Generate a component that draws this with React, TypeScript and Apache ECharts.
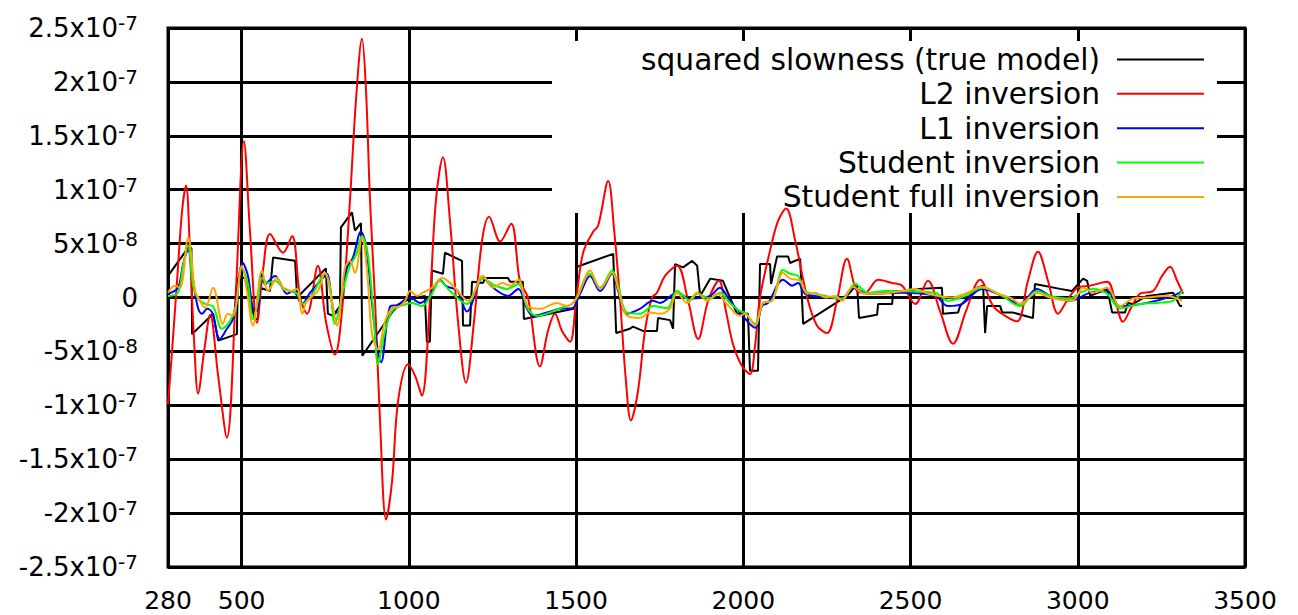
import React, { useEffect, useRef } from 'react';
import * as echarts from 'echarts';

// ---- axes ----
const X_MIN = 280;
const X_MAX = 3500;
const X_TICKS = [280, 500, 1000, 1500, 2000, 2500, 3000, 3500];
// y values are stored in units of 1e-8
const Y_MIN = -25;
const Y_MAX = 25;
const Y_STEP = 5;
const Y_TICK_MANTISSA = ['-2.5', '-2', '-1.5', '-1', '-5', '0', '5', '1', '1.5', '2', '2.5'];
const Y_TICK_EXPONENT = ['-7', '-7', '-7', '-7', '-8', '', '-8', '-7', '-7', '-7', '-7'];

const SERIES_NAMES = [
  'squared slowness (true model)',
  'L2 inversion',
  'L1 inversion',
  'Student inversion',
  'Student full inversion',
];
const SERIES_COLORS = ['#000000', '#ff0000', '#0000ff', '#00ff00', '#ffa500'];

// ---- data: [x, value in 1e-8] ----
const TRUE_MODEL = [
  [280, 2.0], [340, 4.6], [350, 4.6], [352, -3.4], [415, -1.5], [430, -4.0], [486, -3.4], [489, 1.8],
  [510, 1.8], [525, -0.3], [540, -2.0], [549, -2.0], [555, 0.9], [585, 0.6], [594, 3.7], [660, 3.4],
  [666, 0], [752, 2.7], [758, -1.5], [773, -1.7], [794, -0.8], [797, 6.5], [830, 7.9], [839, 6.2],
  [857, 6.9], [861, -5.4], [953, -1.25], [974, -0.6], [998, -0.2], [1048, 0.15], [1054, -4.1],
  [1063, -4.1], [1069, 2.5], [1102, 2.2], [1108, 4.15], [1159, 3.4], [1162, -2.6], [1183, -2.6],
  [1189, 1.45], [1222, 1.35], [1228, 1.8], [1297, 1.8], [1303, 1.45], [1341, 1.45], [1344, -2.0],
  [1500, -1.0], [1503, 2.85], [1611, 4.05], [1620, -3.3], [1661, -2.9], [1670, -2.7], [1700, -3.1],
  [1742, -3.1], [1745, -1.9], [1781, -2.1], [1790, -2.9], [1796, 3.1], [1820, 2.8], [1847, 3.4],
  [1862, 2.95], [1871, 0.15], [1901, 1.75], [1939, 1.55], [1954, 0.45], [1981, -1.5], [2014, -1.5],
  [2020, -6.8], [2044, -6.8], [2050, 3.1], [2080, 3.1], [2083, 1.25], [2101, 3.8], [2134, 3.8],
  [2140, 3.2], [2170, 3.6], [2179, -2.45], [2310, 0.15], [2340, 1.25], [2346, -1.9], [2400, -1.6],
  [2403, -0.6], [2445, -0.6], [2448, 0.6], [2493, 0.6], [2523, 0.8], [2594, 0.9], [2597, -1.5],
  [2642, -1.4], [2648, -0.8], [2699, 0.9], [2717, 1.1], [2723, -3.3], [2729, -0.8], [2768, -0.8],
  [2774, -1.4], [2807, -1.4], [2866, -1.9], [2872, 1.25], [2947, 0.8], [2983, 0.6], [3016, 1.75],
  [3028, 1.55], [3037, 0.15], [3088, 0.8], [3103, -1.4], [3141, -1.4], [3150, -0.5], [3165, -0.6],
  [3207, 0.15], [3237, 0.25], [3285, 0.45], [3306, -0.8], [3312, -0.8],
];

const L2_INV = [
  [280, -9.9], [292, -5.0], [307, 1.5], [322, 8.0], [334, 10.4], [346, 4.0], [358, -4.0], [370, -8.9],
  [388, -5.0], [406, -1.6], [430, -7.3], [456, -13.0], [483, 0.6], [507, 14.5], [525, 6.2],
  [546, -2.35], [564, 2.5], [585, 5.9], [624, 4.15], [651, 5.7], [675, 0], [696, -1.5], [728, 2.95],
  [752, -2.2], [779, -5.3], [803, -0.3], [824, 9.0], [842, 18.3], [860, 24.0], [872, 19.2], [884, 9.0],
  [899, -0.3], [914, -11.5], [932, -20.6], [950, -17.0], [968, -9.6], [998, -6.2], [1019, -7.3],
  [1039, -9.1], [1063, -0.3], [1081, 9.0], [1102, 13.0], [1123, 7.1], [1147, -2.2], [1171, -7.9],
  [1195, -2.2], [1219, 5.3], [1240, 7.5], [1273, 5.2], [1306, 6.85], [1332, 1.55], [1356, 0],
  [1392, -6.4], [1416, -3.1], [1437, -1.5], [1458, -3.1], [1482, -4.1], [1500, -0.3], [1521, 4.15],
  [1551, 6.1], [1566, 6.65], [1596, 10.8], [1614, 6.2], [1631, 0], [1649, -7.7], [1664, -11.4],
  [1685, -8.7], [1706, -3.1], [1727, 0], [1742, 0.45], [1766, 2.0], [1802, 2.95], [1835, -0.3],
  [1865, -3.85], [1895, -0.3], [1927, 1.55], [1948, -1.25], [1969, -4.3], [1996, -6.35], [2020, -7.1],
  [2035, -4.5], [2050, 0], [2080, 4.35], [2104, 7.1], [2128, 8.25], [2155, 5.3], [2191, 0],
  [2220, -2.6], [2250, -3.3], [2280, -0.3], [2310, 3.6], [2340, 0.6], [2364, 0.45], [2403, 1.65],
  [2445, 1.35], [2475, 1.1], [2514, -0.6], [2552, 1.55], [2588, -1.25], [2627, -4.3], [2666, -1.25],
  [2708, 1.65], [2747, -0.8], [2783, -1.7], [2819, -2.2], [2851, 1.55], [2881, 4.25], [2911, 1.55],
  [2941, -1.5], [2968, -0.3], [2998, 0.9], [3037, 1.1], [3088, 1.45], [3112, -0.3], [3135, -2.25],
  [3162, -0.8], [3186, 0.35], [3225, 0.6], [3252, 2.0], [3276, 2.85], [3297, 1.55], [3315, 0.35],
];

const L1_INV = [
  [280, 0.35], [310, 0.9], [325, 3.1], [340, 4.35], [355, 1.55], [370, -1.0], [382, -1.5], [397, -1.05],
  [412, -1.4], [435, -3.85], [456, -2.9], [474, -2.0], [504, 3.2], [519, 2.0], [534, -1.0], [546, -1.25],
  [561, 2.2], [570, 1.25], [600, 2.0], [636, 0.35], [654, 0.6], [681, -0.6], [705, 0.45], [743, 1.8],
  [755, 2.2], [779, -1.5], [794, -1.0], [815, 2.75], [833, 3.7], [857, 6.1], [872, 4.8], [899, -3.1],
  [917, -6.0], [944, -0.85], [965, -0.7], [1004, 0], [1033, -0.5], [1063, 0.15], [1093, 1.65],
  [1114, 1.0], [1144, 0.7], [1174, -1.3], [1222, 1.8], [1252, 0.9], [1297, 0.15], [1327, 0.8],
  [1353, -1.0], [1371, -1.7], [1413, -1.4], [1452, -1.05], [1488, -1.0], [1512, 0.35], [1542, 2.0],
  [1572, 0.6], [1608, 2.2], [1626, 0.6], [1652, -1.5], [1691, -1.05], [1730, -0.3], [1751, -0.5],
  [1802, 0.45], [1841, -0.1], [1901, 0.15], [1930, 0.9], [1960, -0.3], [1990, -1.4], [2035, -2.8],
  [2056, -0.8], [2074, -0.5], [2119, 1.65], [2146, 1.1], [2164, 1.35], [2185, 0.35], [2253, 0],
  [2295, -0.1], [2328, 0.9], [2373, 0.35], [2475, 0.45], [2573, 0.15], [2612, -0.8], [2654, -0.6],
  [2714, 0.8], [2774, 0.15], [2827, -0.6], [2878, 0.8], [2917, 0.15], [2977, -0.3], [3037, 0.45],
  [3088, 0.6], [3126, -0.8], [3207, -0.5], [3285, 0.15], [3312, 0.6],
];

const STUDENT_INV = [
  [280, 0.15], [310, 0.45], [325, 2.95], [340, 4.8], [355, 1.1], [370, -0.1], [391, -0.6], [415, -0.85],
  [441, -2.9], [465, -2.2], [483, -0.8], [501, 2.75], [519, 1.25], [534, -2.0], [549, -0.3], [561, 1.8],
  [579, 1.35], [600, 1.55], [624, 0.9], [645, 0.6], [666, 0.35], [681, -0.6], [711, 0.25], [749, 2.2],
  [764, 1.1], [779, -2.45], [803, 0.6], [824, 2.95], [842, 3.9], [860, 5.7], [878, 3.9], [896, -2.2],
  [908, -6.2], [929, -3.1], [950, -1.25], [974, -0.8], [1010, -0.5], [1039, -0.8], [1069, 0.35],
  [1093, 1.55], [1123, 0.6], [1174, -0.6], [1222, 1.8], [1252, 1.2], [1294, 0.8], [1327, 1.25],
  [1356, -1.05], [1383, -1.7], [1422, -1.4], [1452, -1.0], [1491, -0.5], [1542, 2.2], [1572, 0.9],
  [1608, 2.5], [1626, 1.1], [1652, -1.4], [1691, -1.5], [1730, -0.8], [1772, -1.0], [1802, 0.6],
  [1841, -0.3], [1862, 0.35], [1901, -0.1], [1930, 0.45], [1960, -0.5], [1990, -1.25], [2005, -1.4],
  [2035, -2.45], [2059, -0.5], [2086, -0.3], [2119, 2.55], [2140, 2.2], [2164, 2.0], [2185, 0.6],
  [2215, 0.35], [2295, -0.1], [2334, 1.25], [2373, 0.45], [2424, 0.6], [2573, 0.45], [2612, -0.3],
  [2663, 0.15], [2714, 0.9], [2774, 0.15], [2827, -0.8], [2878, 0.6], [2917, 0.15], [2977, -0.1],
  [3007, 0.45], [3046, 0.8], [3088, 0.35], [3126, -1.0], [3186, -0.6], [3237, -0.5], [3285, -0.3],
  [3312, 0.6],
];

const STUDENT_FULL_INV = [
  [280, 0.45], [301, 1.1], [316, 0.9], [340, 5.55], [361, 0.6], [370, 0], [391, -0.95], [415, 0.9],
  [444, -2.45], [459, -1.5], [474, -1.7], [501, 2.95], [516, 0.6], [534, -2.6], [561, 2.5], [579, 0.6],
  [606, 1.8], [624, 0.8], [645, 0.6], [666, 0.8], [681, -1.5], [696, -0.3], [728, 0.6], [749, 2.3],
  [770, -0.3], [785, -2.6], [809, 2.75], [824, 3.4], [839, 2.3], [860, 5.55], [875, 2.5], [890, -3.4],
  [908, -4.8], [929, -2.2], [950, -1.0], [974, -0.8], [989, -0.3], [1004, 0.6], [1025, 0.15],
  [1042, 0.45], [1069, 0.9], [1099, 1.8], [1132, 1.1], [1177, -0.3], [1222, 2.0], [1252, 0.9],
  [1279, 1.35], [1303, 1.1], [1327, 1.65], [1356, -0.8], [1392, -1.05], [1443, -0.5], [1473, -0.8],
  [1503, 0], [1542, 2.5], [1572, 0.8], [1608, 2.3], [1626, 0.8], [1652, -1.7], [1691, -1.9],
  [1721, -1.4], [1751, -1.5], [1781, -1.0], [1802, 0.45], [1832, -0.5], [1862, 0.45], [1892, -0.3],
  [1922, 0.35], [1951, -0.6], [1990, -1.7], [2005, -1.5], [2035, -2.6], [2059, -0.5], [2086, -0.3],
  [2119, 2.3], [2140, 1.75], [2170, 1.55], [2191, 0.35], [2215, 0.45], [2245, 0], [2275, 0.15],
  [2295, -0.3], [2328, 1.0], [2364, 0.35], [2403, 0.35], [2475, 0.6], [2514, 0.8], [2552, 0.35],
  [2624, 0], [2663, 0.35], [2714, 1.0], [2762, 0.35], [2804, -0.1], [2827, -0.6], [2878, 0.45],
  [2917, 0], [2983, -0.3], [3016, 0.9], [3046, 0.45], [3088, 0.9], [3126, -0.8], [3165, -0.1],
  [3207, 0], [3267, 0.15], [3312, -0.3],
];

const SERIES_DATA = [TRUE_MODEL, L2_INV, L1_INV, STUDENT_INV, STUDENT_FULL_INV];

const FONT = "'DejaVu Sans', sans-serif";

export default function App() {
  const ref = useRef<HTMLDivElement>(null);

  useEffect(() => {
    if (!ref.current) return;
    const chart = echarts.init(ref.current, undefined, { renderer: 'svg' });

    const legendRowCenter0 = 59.5;
    const legendRowStep = 34.35;

    const option = {
      animation: false,
      backgroundColor: '#ffffff',
      grid: {
        left: 168,
        right: 53,
        top: 28,
        bottom: 48,
        show: true,
        borderColor: '#000',
        borderWidth: 3,
        backgroundColor: 'transparent',
      },
      graphic: [
        {
          type: 'rect',
          z: 1,
          silent: true,
          shape: { x: 552, y: 41, width: 665, height: 172 },
          style: { fill: '#ffffff' },
        },
      ],
      legend: SERIES_NAMES.map((name, i) => ({
        data: [name],
        orient: 'horizontal',
        align: 'right',
        right: 93,
        top: legendRowCenter0 + legendRowStep * i - 15,
        padding: 0,
        itemWidth: 87,
        itemHeight: 14,
        selectedMode: false,
        itemStyle: { opacity: 0, borderWidth: 0 },
        lineStyle: { width: 2 },
        textStyle: {
          fontFamily: FONT,
          fontSize: 29.7,
          color: '#000',
          lineHeight: 30,
          padding: [0, 12, 0, 0],
        },
      })),
      xAxis: {
        type: 'value',
        min: X_MIN,
        max: X_MAX,
        axisLine: { show: false },
        axisTick: { show: false, customValues: X_TICKS },
        axisLabel: {
          customValues: X_TICKS,
          formatter: (v: number) => String(v),
          fontFamily: FONT,
          fontSize: 25,
          color: '#000',
          margin: 21,
        },
        splitLine: { show: true, lineStyle: { color: '#000', width: 3, type: 'solid' } },
      },
      yAxis: {
        type: 'value',
        min: Y_MIN,
        max: Y_MAX,
        interval: Y_STEP,
        axisLine: { show: false },
        axisTick: { show: false },
        axisLabel: {
          margin: 30,
          formatter: (v: number) => {
            const i = Math.round((v - Y_MIN) / Y_STEP);
            const m = Y_TICK_MANTISSA[i];
            const e = Y_TICK_EXPONENT[i];
            return e ? `{b|${m}x10}{s|${e}}` : `{b|${m}}`;
          },
          rich: {
            b: { fontFamily: FONT, fontSize: 26, color: '#000', lineHeight: 30 },
            s: { fontFamily: FONT, fontSize: 20, color: '#000', lineHeight: 19, verticalAlign: 'top' },
          },
        },
        splitLine: { show: true, lineStyle: { color: '#000', width: 3, type: 'solid' } },
      },
      series: SERIES_NAMES.map((name, i) => ({
        name,
        type: 'line',
        data: SERIES_DATA[i],
        showSymbol: false,
        symbol: 'none',
        smooth: i === 0 ? false : 0.35,
        z: 2 + i,
        lineStyle: { color: SERIES_COLORS[i], width: 2 },
        itemStyle: { color: SERIES_COLORS[i] },
        emphasis: { disabled: true },
      })),
    };

    chart.setOption(option as any);
    return () => chart.dispose();
  }, []);

  return (
    <div
      ref={ref}
      style={{ position: 'fixed', left: 0, top: 0, width: 1298, height: 615, background: '#fff' }}
    />
  );
}
